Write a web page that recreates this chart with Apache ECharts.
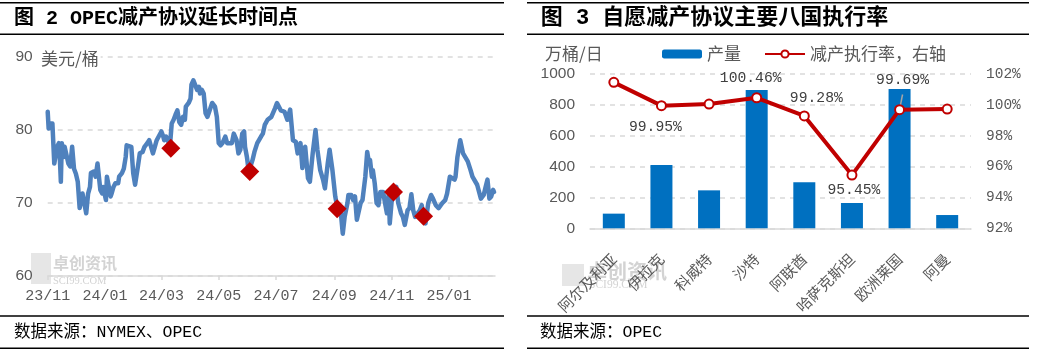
<!DOCTYPE html>
<html><head><meta charset="utf-8">
<script src="https://cdn.jsdelivr.net/npm/echarts@6/dist/echarts.min.js"></script>
<style>html,body{margin:0;padding:0;background:#fff}#c{width:1037px;height:353px}</style>
</head><body><div id="c"></div>
<script>
// ---------- Chart 2: WTI price & OPEC cut-extension points ----------
const priceDates = [
'2023-11-01','2023-11-02','2023-11-03','2023-11-06','2023-11-08','2023-11-10','2023-11-11','2023-11-13','2023-11-14','2023-11-15',
'2023-11-16','2023-11-18','2023-11-19','2023-11-21','2023-11-23','2023-11-25','2023-11-27','2023-11-28','2023-11-29','2023-12-01',
'2023-12-03','2023-12-05','2023-12-07','2023-12-08','2023-12-10','2023-12-12','2023-12-14','2023-12-16','2023-12-17','2023-12-20',
'2023-12-22','2023-12-24','2023-12-26','2023-12-27','2023-12-29','2023-12-30','2024-01-02','2024-01-03','2024-01-05','2024-01-07',
'2024-01-08','2024-01-10','2024-01-12','2024-01-15','2024-01-16','2024-01-19','2024-01-21','2024-01-23','2024-01-24','2024-01-26',
'2024-01-29','2024-01-31','2024-02-02','2024-02-04','2024-02-05','2024-02-07','2024-02-10','2024-02-12','2024-02-15','2024-02-17',
'2024-02-19','2024-02-21','2024-02-23','2024-02-25','2024-02-27','2024-03-01','2024-03-03','2024-03-04','2024-03-06','2024-03-09',
'2024-03-10','2024-03-12','2024-03-14','2024-03-16','2024-03-18','2024-03-20','2024-03-22','2024-03-24','2024-03-26','2024-03-27',
'2024-03-30','2024-04-01','2024-04-02','2024-04-04','2024-04-06','2024-04-08','2024-04-10','2024-04-11','2024-04-13','2024-04-15',
'2024-04-17','2024-04-19','2024-04-21','2024-04-24','2024-04-27','2024-04-29','2024-05-01','2024-05-03','2024-05-05','2024-05-08',
'2024-05-10','2024-05-12','2024-05-15','2024-05-17','2024-05-19','2024-05-20','2024-05-22','2024-05-24','2024-05-26','2024-05-28',
'2024-05-29','2024-05-31','2024-06-02','2024-06-04','2024-06-06','2024-06-08','2024-06-11','2024-06-13','2024-06-15','2024-06-17',
'2024-06-19','2024-06-22','2024-06-24','2024-06-26','2024-06-28','2024-06-30','2024-07-02','2024-07-03','2024-07-06','2024-07-10',
'2024-07-13','2024-07-16','2024-07-19','2024-07-22','2024-07-24','2024-07-27','2024-07-29','2024-08-01','2024-08-04','2024-08-06',
'2024-08-09','2024-08-12','2024-08-14','2024-08-17','2024-08-20','2024-08-22','2024-08-25','2024-08-27','2024-08-30','2024-09-01',
'2024-09-02','2024-09-04','2024-09-08','2024-09-10','2024-09-12','2024-09-15','2024-09-16','2024-09-19','2024-09-21','2024-09-23',
'2024-09-25','2024-09-27','2024-09-29','2024-10-01','2024-10-04','2024-10-06','2024-10-08','2024-10-09','2024-10-11','2024-10-12',
'2024-10-14','2024-10-16','2024-10-18','2024-10-20','2024-10-23','2024-10-25','2024-10-27','2024-10-29','2024-10-30','2024-11-01',
'2024-11-04','2024-11-06','2024-11-08','2024-11-11','2024-11-13','2024-11-15','2024-11-18','2024-11-20','2024-11-22','2024-11-24',
'2024-11-26','2024-11-28','2024-12-01','2024-12-03','2024-12-05','2024-12-07','2024-12-10','2024-12-13','2024-12-15','2024-12-18',
'2024-12-21','2024-12-23','2024-12-25','2024-12-28','2024-12-30','2025-01-02','2025-01-04','2025-01-07','2025-01-08','2025-01-10',
'2025-01-13','2025-01-15','2025-01-16','2025-01-18','2025-01-21','2025-01-24','2025-01-26','2025-01-28','2025-01-31','2025-02-02',
'2025-02-04','2025-02-07','2025-02-09','2025-02-11','2025-02-13','2025-02-15','2025-02-17','2025-02-18'
];
const priceValues = [
82.5,80.2,80.9,80.9,75.4,75.2,77.7,78.2,75.9,72.9,
78.2,76.3,77.7,77.7,75.4,75.0,77.7,77.7,74.7,74.0,
72.9,69.3,69.3,71.3,71.3,68.6,71.3,72.2,74.1,74.3,
73.6,75.4,75.4,71.8,71.3,72.2,70.4,73.6,73.8,70.9,
71.3,72.2,72.7,72.7,73.6,74.1,74.7,76.3,77.9,77.7,
77.7,74.1,72.5,72.7,75.0,76.8,77.0,77.7,78.2,78.6,
78.4,76.8,77.7,78.6,78.4,79.8,79.1,78.6,79.1,78.2,
77.7,80.9,81.4,82.1,82.7,81.1,80.7,81.8,81.4,83.2,
83.7,84.3,86.2,86.8,86.6,85.5,85.9,85.0,85.5,85.0,
82.3,81.8,81.8,83.7,83.2,81.8,78.2,77.9,78.2,79.1,
78.2,78.2,78.2,79.5,79.3,78.6,76.8,77.3,79.5,79.8,
77.7,76.3,74.3,74.1,75.9,77.0,78.2,78.4,79.1,79.5,
80.7,81.4,81.4,81.8,81.8,83.0,83.7,83.9,82.7,82.5,
81.4,82.8,78.6,78.4,76.8,78.2,74.8,77.7,73.4,72.9,
76.8,80.0,77.3,74.5,73.2,72.0,75.4,77.3,74.5,74.5,
70.9,69.5,68.6,65.8,68.1,70.0,71.1,71.1,70.4,70.9,
67.7,67.9,70.0,70.4,73.6,77.0,75.4,75.9,73.6,74.5,
72.7,70.0,69.7,71.5,71.5,70.0,68.6,71.3,67.2,70.2,
71.5,72.2,70.0,68.6,68.1,67.0,69.0,69.3,71.2,69.0,
68.1,68.1,69.0,69.7,68.1,67.2,70.0,71.1,70.6,69.7,
69.3,69.3,70.0,70.4,71.3,73.6,73.8,73.2,73.6,76.3,
78.6,78.6,76.8,76.6,75.7,74.5,73.6,73.4,72.5,72.7,
70.6,71.1,72.2,73.2,70.6,70.9,71.8,71.5
];
const cutDates = ['2024-03-11','2024-06-03','2024-09-04','2024-11-03','2024-12-05'];
const cutValues = [77.5, 74.3, 69.2, 71.5, 68.2];
const xTickDates = ['2023-11-01','2024-01-01','2024-03-01','2024-05-01','2024-07-01','2024-09-01','2024-11-01','2025-01-01'];
const xTickLabels = ['23/11','24/01','24/03','24/05','24/07','24/09','24/11','25/01'];
const xRange = ['2023-11-01','2025-02-19'];

// ---------- Chart 3: eight-country output & compliance ----------
const countries = ['阿尔及利亚','伊拉克','科威特','沙特','阿联酋','哈萨克斯坦','欧洲莱国','阿曼'];
const output = [95, 410, 246, 896, 298, 164, 902, 86];
const compliance = [101.46, 99.95, 100.05, 100.46, 99.28, 95.45, 99.69, 99.73];

// ---------- helpers / styles ----------
function toTime(s){ const p = s.split('-'); return Date.UTC(+p[0], +p[1]-1, +p[2]); }
const MONO = "'Liberation Mono','Noto Sans CJK SC',monospace";
const SANS = "'Liberation Sans','Noto Sans CJK SC',sans-serif";
const CJK = "'Noto Sans CJK SC',sans-serif";
const GRAY = '#595959';
const GRID_C = '#D9D9D9';
const tickTimes = xTickDates.map(toTime);

const labelCfg = {
  1: {position:'bottom', offset:[-6, 4]},
  3: {position:'top', offset:[-6, -2]},
  4: {position:'top', offset:[12, 0]},
  5: {position:'bottom', offset:[2, -3]},
  6: {position:'top', offset:[3, -12]}
};

const chart = echarts.init(document.getElementById('c'), null, {renderer:'canvas'});

function hLine(x1, x2, y){ return {type:'line', shape:{x1:x1, y1:y, x2:x2, y2:y}, style:{stroke:'#000', lineWidth:1.5}, z:50}; }
function txt(x, y, text, font, size, opts){
  return Object.assign({type:'text', x:x, y:y, z:50,
    style:Object.assign({text:text, fontFamily:font, fontSize:size, fill:'#000', verticalAlign:'middle', align:'left'}, (opts||{}).style||{})},
    (opts||{}).el||{});
}

const option = {
  animation:false,
  backgroundColor:'#fff',
  grid:[
    {left:47.7, top:57, width:447.3, height:219, containLabel:false},
    {left:590, top:74, width:381, height:154.3, containLabel:false}
  ],
  legend:{
    data:['产量','减产执行率，右轴'],
    left:662, top:45.5, padding:0,
    itemWidth:40, itemHeight:9, itemGap:23,
    textStyle:{fontFamily:CJK, fontSize:17, color:GRAY}
  },
  xAxis:[
    {
      type:'value', gridIndex:0, min:toTime(xRange[0]), max:toTime(xRange[1]), scale:true,
      axisLine:{show:true, lineStyle:{color:GRID_C, width:1.5}},
      axisTick:{show:true, customValues:tickTimes, length:4, lineStyle:{color:GRID_C, width:1.5}},
      axisLabel:{
        customValues:tickTimes, margin:13, color:GRAY, fontFamily:MONO, fontSize:15,
        showMinLabel:true, showMaxLabel:true,
        formatter:function(v){
          let best=0, bd=Infinity;
          tickTimes.forEach(function(t,i){ const d=Math.abs(t-v); if(d<bd){bd=d;best=i;} });
          return xTickLabels[best];
        }
      },
      splitLine:{show:false}
    },
    {
      type:'category', gridIndex:1, data:countries,
      axisLine:{show:true, lineStyle:{color:GRID_C, width:1.5}},
      axisTick:{show:false},
      axisLabel:{interval:0, rotate:45, margin:28, color:GRAY, fontFamily:CJK, fontSize:15}
    }
  ],
  yAxis:[
    {
      type:'value', gridIndex:0, min:60, max:90, interval:10,
      axisLine:{show:false}, axisTick:{show:false},
      axisLabel:{margin:15, color:GRAY, fontFamily:SANS, fontSize:15.5},
      splitLine:{show:true, lineStyle:{color:GRID_C, width:1.5, type:[5,5]}}
    },
    {
      type:'value', gridIndex:1, min:0, max:1000, interval:200,
      axisLine:{show:false}, axisTick:{show:false},
      axisLabel:{margin:15, color:GRAY, fontFamily:SANS, fontSize:15.5, formatter:function(v){ return String(v); }},
      splitLine:{show:true, lineStyle:{color:GRID_C, width:1.5, type:[5,5]}}
    },
    {
      type:'value', gridIndex:1, position:'right', min:92, max:102, interval:2,
      axisLine:{show:false}, axisTick:{show:false},
      axisLabel:{margin:15, color:GRAY, fontFamily:MONO, fontSize:14.5, formatter:'{value}%'},
      splitLine:{show:false}
    }
  ],
  series:[
    {
      name:'WTI', type:'line', xAxisIndex:0, yAxisIndex:0,
      data:priceDates.map(function(d,i){ return [toTime(d), priceValues[i]]; }),
      showSymbol:false, symbol:'none',
      lineStyle:{color:'#4F81BD', width:4.5, join:'round', cap:'round'},
      z:3
    },
    {
      name:'延长时间点', type:'scatter', xAxisIndex:0, yAxisIndex:0,
      data:cutDates.map(function(d,i){ return [toTime(d), cutValues[i]]; }),
      symbol:'diamond', symbolSize:[19,19],
      itemStyle:{color:'#C00000', opacity:1}, z:5
    },
    {
      name:'产量', type:'bar', xAxisIndex:1, yAxisIndex:1,
      data:output, barWidth:22,
      itemStyle:{color:'#0070C0'}, z:2
    },
    {
      name:'减产执行率，右轴', type:'line', xAxisIndex:1, yAxisIndex:2,
      data:compliance.map(function(v,i){
        const c = labelCfg[i];
        const item = {value:v};
        if (c) {
          item.label = {show:true, position:c.position, offset:c.offset};
          if (i === 6) item.labelLine = {show:true, lineStyle:{color:'#A6A6A6', width:1.5}};
        }
        return item;
      }),
      symbol:'circle', symbolSize:9,
      lineStyle:{color:'#C00000', width:4},
      itemStyle:{color:'#fff', borderColor:'#C00000', borderWidth:2},
      label:{show:false, fontFamily:MONO, fontSize:14.7, color:'#404040',
        formatter:function(p){ return p.value.toFixed(2) + '%'; }},
      z:4
    }
  ],
  graphic:[
    hLine(0, 504, 2.7), hLine(0, 504, 34.2), hLine(0, 504, 316), hLine(0, 504, 348.3),
    hLine(527, 1029, 2.7), hLine(527, 1029, 34.2), hLine(527, 1029, 316), hLine(527, 1029, 348.3),
    txt(14, 18.5, '图 2 OPEC减产协议延长时间点', MONO, 20, {style:{fontWeight:'bold'}}),
    txt(540.7, 18.5, '图 3 自愿减产协议主要八国执行率', MONO, 22, {style:{fontWeight:'bold'}}),
    txt(14, 333, '数据来源：NYMEX、OPEC', MONO, 16.5),
    txt(540, 333, '数据来源：OPEC', MONO, 16.5),
    txt(40, 59, '美元/桶', CJK, 17, {style:{fill:GRAY, backgroundColor:'#fff', padding:[0,2,0,1]}}),
    txt(545, 54, '万桶/日', CJK, 17, {style:{fill:GRAY}}),
    {type:'rect', shape:{x:31, y:253, width:20, height:31}, style:{fill:'#E6E6E6'}, z:0},
    txt(53, 263, '卓创资讯', CJK, 16, {style:{fill:'#D3D3D3', fontWeight:'bold'}, el:{z:0}}),
    txt(53, 281, 'SCI99.COM', "'Liberation Serif',serif", 10.5, {style:{fill:'#D3D3D3'}, el:{z:0}}),
    {type:'rect', shape:{x:562, y:264, width:22, height:22}, style:{fill:'#E6E6E6'}, z:0},
    txt(587, 271, '卓创资讯', CJK, 20, {style:{fill:'#D3D3D3', fontWeight:'bold'}, el:{z:0}}),
    txt(589, 285, 'SCI99.COM', "'Liberation Serif',serif", 11.5, {style:{fill:'#D3D3D3'}, el:{z:0}})
  ]
};
chart.setOption(option);
</script>
</body></html>
